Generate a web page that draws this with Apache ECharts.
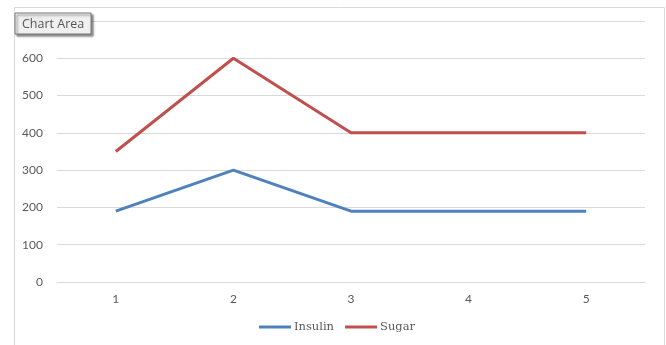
<!DOCTYPE html>
<html><head><meta charset="utf-8">
<script src="https://cdn.jsdelivr.net/npm/echarts@6/dist/echarts.min.js"></script>
<style>html,body{margin:0;padding:0;background:#fff}#c{width:666px;height:345px}</style>
</head><body><div id="c"></div>
<script>
var categories = ['1','2','3','4','5'];
var insulin = [190, 300, 190, 190, 190];
var sugar = [350, 600, 400, 400, 400];
var chart = echarts.init(document.getElementById('c'));
chart.setOption({
  animation: false,
  grid: {left: 57, right: 21, top: 21, bottom: 63},
  legend: {
    data: ['Insulin','Sugar'], bottom: 7, left: 254,
    itemWidth: 32, itemHeight: 3, itemGap: 11,
    icon: 'rect',
    textStyle: {fontFamily: 'DejaVu Serif', fontSize: 11.5, color: '#595959', padding: [0,0,0,-2]}
  },
  xAxis: {
    type: 'category', data: categories, boundaryGap: true,
    axisLine: {lineStyle: {color: '#d9d9d9', width: 1}},
    axisTick: {show: false},
    axisLabel: {color: '#595959', fontFamily: 'Lato', fontSize: 12, margin: 11}
  },
  yAxis: {
    type: 'value', min: 0, max: 700, interval: 100,
    axisLine: {show: false}, axisTick: {show: false},
    splitLine: {lineStyle: {color: '#d9d9d9', width: 1}},
    axisLabel: {color: '#595959', fontFamily: 'Lato', fontSize: 12, margin: 14}
  },
  series: [
    {name: 'Insulin', type: 'line', data: insulin, symbol: 'none', lineStyle: {color: '#4F81BD', width: 3}, itemStyle: {color: '#4F81BD'}},
    {name: 'Sugar', type: 'line', data: sugar, symbol: 'none', lineStyle: {color: '#C0504D', width: 3}, itemStyle: {color: '#C0504D'}}
  ],
  graphic: [
    {type: 'rect', left: 12, top: 5, shape: {width: 650, height: 345}, style: {fill: 'none', stroke: '#d9d9d9', lineWidth: 1}, silent: true},
    {type: 'rect', z: 100, shape: {x: 15, y: 13, width: 76, height: 21},
     style: {fill: 'rgba(251,251,251,0.9)', stroke: '#767676', lineWidth: 1, shadowColor: 'rgba(0,0,0,0.5)', shadowBlur: 2, shadowOffsetX: 2, shadowOffsetY: 2}},
    {type: 'text', z: 101, style: {x: 22, y: 24, text: 'Chart Area', fill: '#575757', font: '12.5px "Open Sans", sans-serif', textAlign: 'left', textVerticalAlign: 'middle'}}
  ]
});
</script></body></html>
